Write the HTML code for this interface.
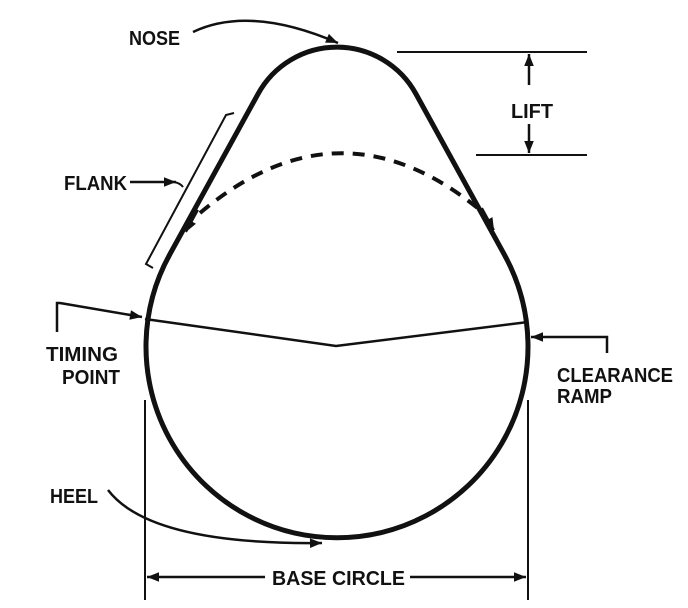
<!DOCTYPE html>
<html><head><style>
html,body{margin:0;padding:0;background:#fff;}
svg{display:block;}
text{font-family:"Liberation Sans Narrow","Liberation Sans",sans-serif;font-weight:bold;font-size:20px;fill:#111;}
</style></head><body>
<svg width="688" height="608" viewBox="0 0 688 608" xmlns="http://www.w3.org/2000/svg">
<defs>
<marker id="a" viewBox="0 0 10 10" refX="10" refY="5" markerWidth="7" markerHeight="7" orient="auto-start-reverse" markerUnits="userSpaceOnUse">
<path d="M0,1 L10,5 L0,9 Z" fill="#111"/></marker>
<marker id="b" viewBox="0 0 10 10" refX="10" refY="5" markerWidth="16" markerHeight="12" orient="auto-start-reverse" markerUnits="userSpaceOnUse">
<path d="M0,1 L10,5 L0,9 Z" fill="#111"/></marker>
</defs>
<g stroke="#111" fill="none">
<!-- cam outline -->
<path d="M258,94 A90,90 0 0 1 416,94 L504,254 A191,191 0 1 1 170,254 Z" stroke-width="5"/>
<!-- chord -->
<polyline points="145,319 336,346 528,322" stroke-width="2.5"/>
<!-- dashed arc -->
<path d="M200,213 Q340,95 480,210" stroke-width="4" stroke-dasharray="12,9"/>
<line x1="198" y1="210" x2="186" y2="232" stroke-width="2" marker-end="url(#b)"/>
<line x1="482" y1="208" x2="494" y2="230" stroke-width="2" marker-end="url(#b)"/>
<!-- flank bracket -->
<polyline points="234,113 226,115 146,264 153,268" stroke-width="2"/>
<!-- lift -->
<line x1="397" y1="52" x2="587" y2="52" stroke-width="2"/>
<line x1="476" y1="155" x2="587" y2="155" stroke-width="2"/>
<line x1="529" y1="85" x2="529" y2="54" stroke-width="2.5" marker-end="url(#b)"/>
<line x1="529" y1="124" x2="529" y2="153" stroke-width="2.5" marker-end="url(#b)"/>
<!-- nose arrow -->
<path d="M193,32 Q250,5 338,43" stroke-width="2.5" marker-end="url(#b)"/>
<!-- flank arrow -->
<line x1="130" y1="182" x2="176" y2="182" stroke-width="2.5" marker-end="url(#b)"/>
<path d="M174,182 Q180,183 183,187" stroke-width="2"/>
<!-- timing -->
<polyline points="57,332 57,303 60,303" stroke-width="2.5"/>
<line x1="60" y1="303" x2="142" y2="317" stroke-width="2.5" marker-end="url(#b)"/>
<!-- clearance -->
<polyline points="607,353 607,337 560,337" stroke-width="2.5"/>
<line x1="560" y1="337" x2="531" y2="337" stroke-width="2.5" marker-end="url(#b)"/>
<!-- heel arrow -->
<path d="M108,490 Q150,545 322,543" stroke-width="2.5" marker-end="url(#b)"/>
<!-- base circle dims -->
<line x1="145" y1="400" x2="145" y2="600" stroke-width="2"/>
<line x1="528" y1="400" x2="528" y2="600" stroke-width="2"/>
<line x1="265" y1="577" x2="147" y2="577" stroke-width="2.5" marker-end="url(#b)"/>
<line x1="410" y1="577" x2="526" y2="577" stroke-width="2.5" marker-end="url(#b)"/>
</g>
<text x="129" y="45" textLength="51" lengthAdjust="spacingAndGlyphs">NOSE</text>
<text x="511" y="118" textLength="42" lengthAdjust="spacingAndGlyphs">LIFT</text>
<text x="64" y="190" textLength="63" lengthAdjust="spacingAndGlyphs">FLANK</text>
<text x="46" y="361" textLength="72" lengthAdjust="spacingAndGlyphs">TIMING</text>
<text x="62" y="384" textLength="58" lengthAdjust="spacingAndGlyphs">POINT</text>
<text x="557" y="382" textLength="116" lengthAdjust="spacingAndGlyphs">CLEARANCE</text>
<text x="557" y="403" textLength="55" lengthAdjust="spacingAndGlyphs">RAMP</text>
<text x="50" y="503" textLength="48" lengthAdjust="spacingAndGlyphs">HEEL</text>
<text x="272" y="585" textLength="133" lengthAdjust="spacingAndGlyphs">BASE CIRCLE</text>
</svg>
</body></html>
